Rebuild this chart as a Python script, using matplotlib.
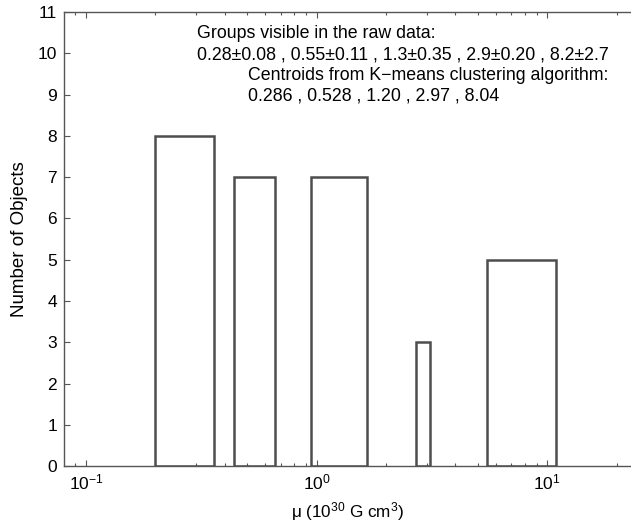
import matplotlib
matplotlib.use("Agg")
import matplotlib.pyplot as plt
from matplotlib.ticker import LogLocator, LogFormatterSciNotation, NullFormatter

# groups visible in the raw data: centre, half-width and number of objects
centres = [0.28, 0.55, 1.3, 2.9, 8.2]
errors = [0.08, 0.11, 0.35, 0.20, 2.7]
counts = [8, 7, 7, 3, 5]

plt.rcParams["font.family"] = ["Liberation Sans", "DejaVu Sans"]
plt.rcParams["mathtext.fontset"] = "custom"
plt.rcParams["mathtext.rm"] = "Liberation Sans"
plt.rcParams["mathtext.it"] = "Liberation Sans:italic"
plt.rcParams["mathtext.default"] = "regular"

axis_col = "#555555"
bar_col = "#4d4d4d"

fig = plt.figure(figsize=(6.31, 5.29), dpi=100)
ax = fig.add_axes([0.1014, 0.119, 0.8986, 0.858])

lefts = [c - e for c, e in zip(centres, errors)]
widths = [2 * e for e in errors]
ax.bar(lefts, counts, width=widths, align="edge", fill=False,
       edgecolor=bar_col, linewidth=1.8, zorder=3)

ax.set_xscale("log")
ax.set_xlim(0.0803, 23.1)
ax.set_ylim(0, 11)
ax.set_yticks(range(0, 12))

ax.xaxis.set_major_locator(LogLocator(base=10))
ax.xaxis.set_minor_locator(LogLocator(base=10, subs=range(2, 10)))
ax.xaxis.set_major_formatter(LogFormatterSciNotation())
ax.xaxis.set_minor_formatter(NullFormatter())

for side in ["left", "bottom", "top"]:
    ax.spines[side].set_color(axis_col)
    ax.spines[side].set_linewidth(1.0)
ax.spines["right"].set_visible(False)

ax.tick_params(axis="both", which="major", direction="in", length=4.5,
               width=0.8, color=axis_col, labelsize=12.5, pad=5)
ax.tick_params(axis="x", which="both", top=True)
ax.tick_params(axis="x", which="minor", direction="in", length=2.4,
               width=0.8, color=axis_col)
ax.tick_params(axis="y", which="both", right=False)

ax.set_xlabel("\u03bc (10$^{30}$ G cm$^{3}$)", fontsize=12.3, labelpad=5)
ax.set_ylabel("Number of Objects", fontsize=13.5, labelpad=7)

txt = dict(transform=ax.transAxes, fontsize=12.8, va="center", ha="left")
ax.text(0.2346, 0.953, "Groups visible in the raw data:", **txt)
ax.text(0.2346, 0.906,
        "0.28\u00b10.08 , 0.55\u00b10.11 , 1.3\u00b10.35 , 2.9\u00b10.20 , 8.2\u00b12.7",
        **txt)
ax.text(0.3245, 0.861, "Centroids from K\u2212means clustering algorithm:", **txt)
ax.text(0.3245, 0.816, "0.286 , 0.528 , 1.20 , 2.97 , 8.04", **txt)

fig.savefig("out.png", dpi=100)
